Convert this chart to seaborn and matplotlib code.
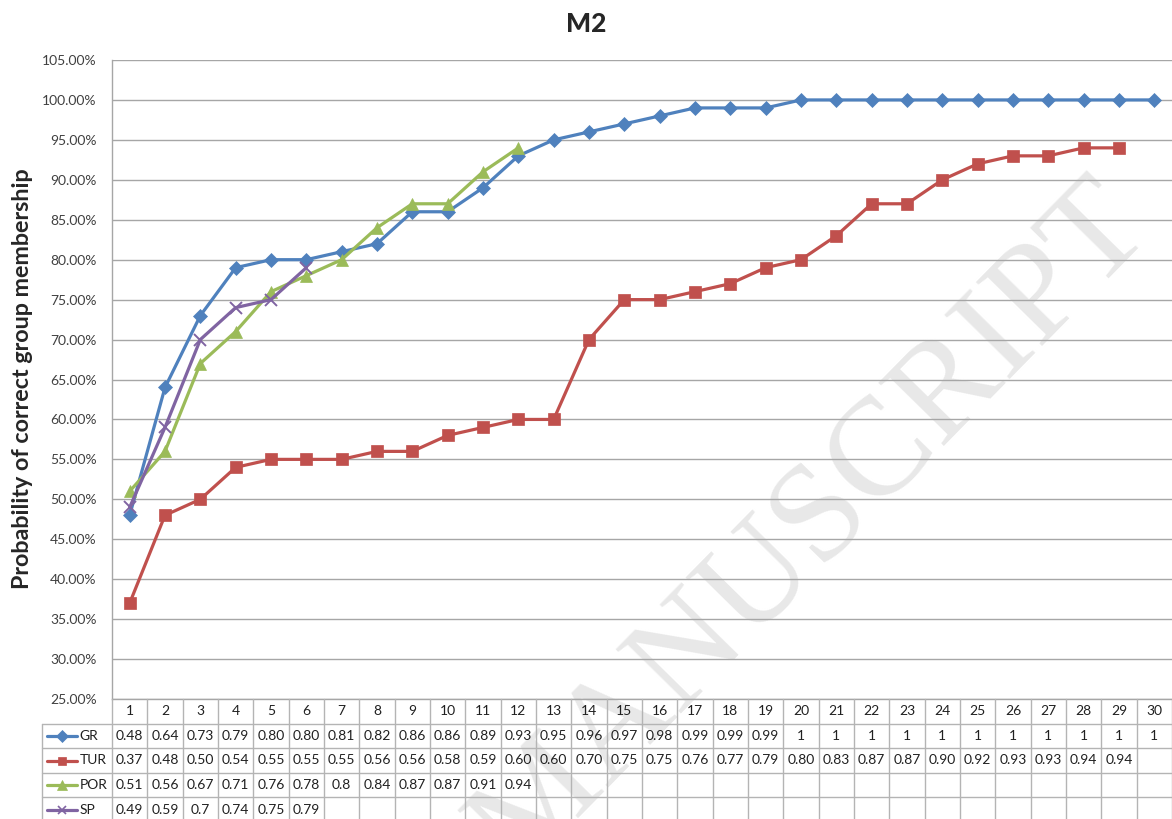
import numpy as np
import pandas as pd
import matplotlib
matplotlib.use("Agg")
import matplotlib.pyplot as plt
from matplotlib.ticker import PercentFormatter
import seaborn as sns

# Probability of correct group membership (M2)
GROUPS = list(range(1, 31))
GR = [0.48, 0.64, 0.73, 0.79, 0.80, 0.80, 0.81, 0.82, 0.86, 0.86, 0.89, 0.93, 0.95, 0.96, 0.97,
      0.98, 0.99, 0.99, 0.99, 1, 1, 1, 1, 1, 1, 1, 1, 1, 1, 1]
TUR = [0.37, 0.48, 0.50, 0.54, 0.55, 0.55, 0.55, 0.56, 0.56, 0.58, 0.59, 0.60, 0.60, 0.70, 0.75,
       0.75, 0.76, 0.77, 0.79, 0.80, 0.83, 0.87, 0.87, 0.90, 0.92, 0.93, 0.93, 0.94, 0.94]
POR = [0.51, 0.56, 0.67, 0.71, 0.76, 0.78, 0.8, 0.84, 0.87, 0.87, 0.91, 0.94]
SP = [0.49, 0.59, 0.7, 0.74, 0.75, 0.79]

SERIES = {"GR": GR, "TUR": TUR, "POR": POR, "SP": SP}
COLORS = {"GR": "#4F81BD", "TUR": "#C0504D", "POR": "#9BBB59", "SP": "#8064A2"}
MARKERS = {"GR": "D", "TUR": "s", "POR": "^", "SP": "x"}
MSIZE = {"GR": 7.5, "TUR": 8.5, "POR": 9, "SP": 8}
# Excel shows GR/TUR with two decimals, POR/SP in general format
FIXED = {"GR": True, "TUR": True, "POR": False, "SP": False}

W, H = 1172, 819
GRID = "#A6A6A6"
TABLE_LINE = "#B4B4B4"


def cell_text(name, v):
    if FIXED[name]:
        return "1" if v == 1 else f"{v:.2f}"
    return f"{v:g}"


rows = []
for name, vals in SERIES.items():
    for g, v in zip(GROUPS, vals):
        rows.append({"group": g, "prob": v, "series": name})
df = pd.DataFrame(rows)

sns.set_theme(style="white")
plt.rcParams["font.family"] = ["Lato", "DejaVu Sans"]

fig = plt.figure(figsize=(W / 100, H / 100), dpi=100)

# faint diagonal watermark behind everything (runs off the bottom edge as in the source)
fig.text(812 / W, 1 - 528 / H, "MANUSCRIPT", fontsize=101, family="Liberation Serif",
         color="#E8E8E8", rotation=45.5, rotation_mode="anchor",
         ha="center", va="center", zorder=-1)

ax = fig.add_axes([112 / W, 1 - 699 / H, 1060 / W, (699 - 60) / H])
ax.set_facecolor("none")

for name in SERIES:
    sub = df[df["series"] == name]
    filled = MARKERS[name] != "x"
    sns.lineplot(data=sub, x="group", y="prob", ax=ax, color=COLORS[name],
                 marker=MARKERS[name], markersize=MSIZE[name], linewidth=2.3,
                 markeredgecolor=COLORS[name], markeredgewidth=0.5 if filled else 1.4,
                 legend=False, zorder=3)

ax.set_xlim(0.5, 30.5)
ax.set_ylim(0.25, 1.05)
ax.set_yticks(np.arange(0.25, 1.0501, 0.05))
ax.yaxis.set_major_formatter(PercentFormatter(1.0, decimals=2))
ax.set_xticks([])
ax.set_xlabel("")
ax.set_ylabel("")
ax.tick_params(axis="y", length=0, pad=11, labelsize=10, labelcolor="#404040")
ax.grid(axis="y", color=GRID, linewidth=1)
for side in ["top", "right"]:
    ax.spines[side].set_visible(False)
for side in ["left", "bottom"]:
    ax.spines[side].set_color(GRID)
    ax.spines[side].set_linewidth(1)

fig.text(0.5, 1 - 24 / H, "M2", ha="center", va="center", fontsize=19, fontweight="black")
fig.text(23 / W, 1 - 379 / H, "Probability of correct group membership", rotation=90,
         ha="center", va="center", fontsize=16.8, fontweight="bold")

# data table under the plot, sharing the category positions
row_h = 24.6
tax = fig.add_axes([112 / W, 0, 1060 / W, 120 / H], sharex=ax)
tax.set_ylim(120 / row_h, 0)
tax.axis("off")
left = 0.5 - 70 / (1060 / 30)
bottom = 120 / row_h

for r in range(1, 5):
    tax.plot([left, 30.5], [r, r], color=TABLE_LINE, lw=1, clip_on=False)
for xv in np.arange(0.5, 31):
    tax.plot([xv, xv], [0, bottom], color=TABLE_LINE, lw=1, clip_on=False)
tax.plot([left, left], [1, bottom], color=TABLE_LINE, lw=1, clip_on=False)

for g in GROUPS:
    tax.text(g, 0.5, str(g), ha="center", va="center", fontsize=10, color="#202020")

for r, (name, vals) in enumerate(SERIES.items(), start=1):
    yc = r + 0.5
    for g, v in zip(GROUPS, vals):
        tax.text(g, yc, cell_text(name, v), ha="center", va="center", fontsize=10,
                 color="#202020", clip_on=False)
    tax.plot([left + 0.14, left + 1.0], [yc, yc], color=COLORS[name], lw=2.3, clip_on=False)
    tax.plot([left + 0.57], [yc], marker=MARKERS[name], ms=MSIZE[name] * 0.75,
             color=COLORS[name], mec=COLORS[name], mew=1.2 if name == "SP" else 0.5,
             clip_on=False)
    tax.text(left + 1.06, yc, name, ha="left", va="center", fontsize=10,
             color="#202020", clip_on=False)

fig.savefig("out.png", dpi=100)
